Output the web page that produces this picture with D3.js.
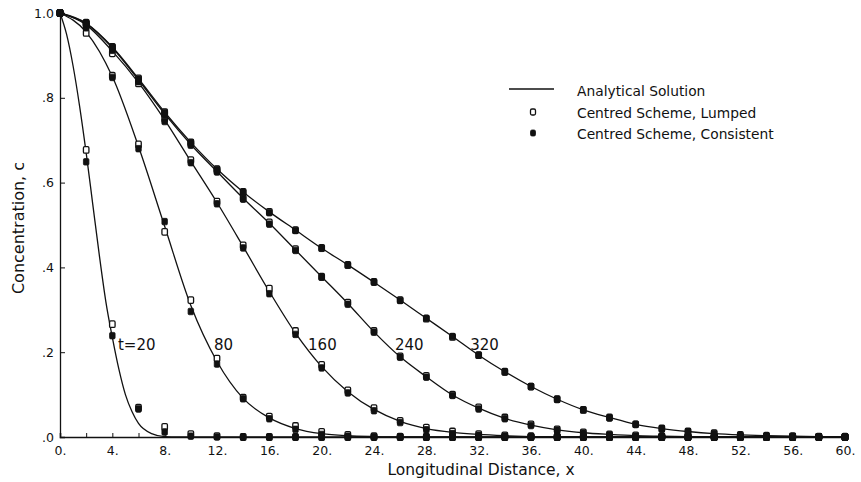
<!DOCTYPE html>
<html><head><meta charset="utf-8">
<script src="https://cdn.jsdelivr.net/npm/d3@7"></script>
<style>
body{margin:0;background:#fff}
svg{display:block}
text{font-family:"DejaVu Sans",sans-serif;fill:#111}
</style>
</head><body><svg id="chart" width="861" height="482"></svg>
<script>
// ---------------- DATA ----------------
const xNodes = [0,2,4,6,8,10,12,14,16,18,20,22,24,26,28,30,32,34,36,38,40,42,44,46,48,50,52,54,56,58,60];

// analytical solution, t = 20 (finer sampling near the source)
const xAnalytic20 = [0,0.5,1,1.5,2,2.5,3,3.5,4,4.5,5,5.5,6,7,8,9,10,60];
const cAnalytic20 = [1.0,0.95,0.875,0.78,0.67,0.55,0.43,0.32,0.235,0.16,0.10,0.06,0.032,0.008,0.001,0,0,0];

// analytical solutions at xNodes
const analytic80  = [1.0,0.955,0.85,0.685,0.497,0.31,0.178,0.091,0.045,0.02,0.008,0.003,0.001,0,0,0,0,0,0,0,0,0,0,0,0,0,0,0,0,0,0];
const analytic160 = [1.0,0.972,0.91,0.836,0.748,0.65,0.553,0.449,0.343,0.245,0.166,0.107,0.065,0.037,0.02,0.011,0.006,0.003,0.001,0,0,0,0,0,0,0,0,0,0,0,0];
const analytic240 = [1.0,0.975,0.918,0.842,0.762,0.69,0.626,0.563,0.504,0.441,0.378,0.315,0.248,0.189,0.142,0.099,0.068,0.044,0.028,0.017,0.010,0.006,0.003,0.002,0.001,0,0,0,0,0,0];
const analytic320 = [1.0,0.976,0.92,0.845,0.766,0.695,0.632,0.578,0.531,0.488,0.445,0.406,0.365,0.323,0.28,0.237,0.193,0.154,0.119,0.089,0.064,0.046,0.030,0.020,0.013,0.008,0.005,0.003,0.002,0.001,0];

// numerical results at xNodes: centred scheme, lumped / consistent
const lumped20      = [1.0,0.677,0.266,0.069,0.024,0.007,0.002,0,0,0,0,0,0,0,0,0,0,0,0,0,0,0,0,0,0,0,0,0,0,0,0];
const consistent20  = [1.0,0.649,0.239,0.066,0.012,0.002,0,0,0,0,0,0,0,0,0,0,0,0,0,0,0,0,0,0,0,0,0,0,0,0,0];
const lumped80      = [1.0,0.953,0.852,0.69,0.484,0.323,0.185,0.093,0.048,0.026,0.012,0.005,0.002,0.001,0,0,0,0,0,0,0,0,0,0,0,0,0,0,0,0,0];
const consistent80  = [1.0,0.965,0.848,0.68,0.508,0.296,0.172,0.09,0.043,0.018,0.006,0.002,0,0,0,0,0,0,0,0,0,0,0,0,0,0,0,0,0,0,0];
const lumped160     = [1.0,0.97,0.905,0.834,0.75,0.653,0.555,0.452,0.35,0.25,0.17,0.11,0.068,0.038,0.022,0.013,0.007,0.004,0.002,0.001,0,0,0,0,0,0,0,0,0,0,0];
const consistent160 = [1.0,0.975,0.912,0.838,0.744,0.647,0.55,0.446,0.338,0.242,0.163,0.104,0.062,0.034,0.017,0.008,0.004,0.002,0.001,0,0,0,0,0,0,0,0,0,0,0,0];
const lumped240     = [1.0,0.975,0.918,0.843,0.763,0.692,0.628,0.563,0.506,0.443,0.378,0.317,0.25,0.19,0.144,0.1,0.07,0.046,0.03,0.018,0.011,0.006,0.004,0.002,0.001,0,0,0,0,0,0];
const consistent240 = [1.0,0.976,0.918,0.84,0.76,0.688,0.625,0.561,0.502,0.44,0.377,0.313,0.247,0.188,0.141,0.098,0.066,0.043,0.027,0.016,0.009,0.005,0.002,0.001,0,0,0,0,0,0,0];
const lumped320     = [1.0,0.977,0.92,0.846,0.766,0.695,0.632,0.578,0.531,0.488,0.446,0.406,0.366,0.323,0.279,0.236,0.193,0.154,0.119,0.089,0.064,0.046,0.030,0.020,0.013,0.009,0.005,0.003,0.002,0.001,0.001];
const consistent320 = [1.0,0.976,0.92,0.844,0.765,0.694,0.631,0.577,0.529,0.487,0.445,0.405,0.365,0.322,0.28,0.237,0.193,0.153,0.119,0.089,0.064,0.045,0.030,0.019,0.012,0.008,0.004,0.002,0.001,0,0];

const curveLabels = ["t=20","80","160","240","320"];
const xTickValues = [0,4,8,12,16,20,24,28,32,36,40,44,48,52,56,60];
const xTickLabels = ["0.","4.","8.","12.","16.","20.","24.","28.","32.","36.","40.","44.","48.","52.","56.","60."];
const yTickValues = [0,0.2,0.4,0.6,0.8,1.0];
const yTickLabels = [".0",".2",".4",".6",".8","1.0"];
const legendItems = ["Analytical Solution","Centred Scheme, Lumped","Centred Scheme, Consistent"];

// ---------------- LAYOUT ----------------
const svg = d3.select("#chart");
const x = d3.scaleLinear().domain([0,60]).range([60,845]);
const y = d3.scaleLinear().domain([0,1]).range([437,13]);
const ink = "#111";

// axes
const xAxis = d3.axisBottom(x).tickValues(d3.range(0,61,2)).tickSize(-4)
  .tickFormat(d => { const i = xTickValues.indexOf(d); return i >= 0 ? xTickLabels[i] : ""; });
const gx = svg.append("g").attr("transform","translate(0,437)").call(xAxis);
gx.select(".domain").attr("stroke",ink).attr("stroke-width",1.6);
gx.selectAll(".tick line").attr("stroke",ink).attr("stroke-width",1);
gx.selectAll(".tick text").attr("fill",ink).attr("font-size",12.5).attr("font-family","DejaVu Sans").attr("dy","0.95em").attr("y",6);

const yAxis = d3.axisLeft(y).tickValues(yTickValues).tickSize(-5)
  .tickFormat((d,i) => yTickLabels[i]);
const gy = svg.append("g").attr("transform","translate(60,0)").call(yAxis);
gy.select(".domain").attr("stroke",ink).attr("stroke-width",1.3);
gy.selectAll(".tick line").attr("stroke",ink).attr("stroke-width",1);
gy.selectAll(".tick text").attr("fill",ink).attr("font-size",12.5).attr("font-family","DejaVu Sans").attr("x",-6);

// axis titles
svg.append("text").attr("x",481).attr("y",475).attr("text-anchor","middle")
  .attr("font-size",15.5).text("Longitudinal Distance, x");
svg.append("text").attr("transform","translate(24,228) rotate(-90)").attr("text-anchor","middle")
  .attr("font-size",16).text("Concentration, c");

// analytical lines
const line = d3.line().x(d => x(d[0])).y(d => y(d[1])).curve(d3.curveMonotoneX);
const analyticSets = [
  xAnalytic20.map((v,i) => [v, cAnalytic20[i]]),
  xNodes.map((v,i) => [v, analytic80[i]]),
  xNodes.map((v,i) => [v, analytic160[i]]),
  xNodes.map((v,i) => [v, analytic240[i]]),
  xNodes.map((v,i) => [v, analytic320[i]])
];
svg.append("g").selectAll("path").data(analyticSets).join("path")
  .attr("d", line).attr("fill","none").attr("stroke",ink).attr("stroke-width",1.3);

// markers
const lumpedSets = [lumped20,lumped80,lumped160,lumped240,lumped320];
const consistentSets = [consistent20,consistent80,consistent160,consistent240,consistent320];
const mw = 5.5, mh = 6.5;
const gl = svg.append("g");
lumpedSets.forEach(arr => {
  gl.selectAll(null).data(arr.map((c,i) => [xNodes[i], c])).join("rect")
    .attr("x", d => x(d[0]) - mw/2).attr("y", d => y(d[1]) - mh/2)
    .attr("width", mw).attr("height", mh).attr("rx",1.2)
    .attr("fill","#fff").attr("stroke",ink).attr("stroke-width",1.3);
});
const gc = svg.append("g");
consistentSets.forEach(arr => {
  gc.selectAll(null).data(arr.map((c,i) => [xNodes[i], c])).join("rect")
    .attr("x", d => x(d[0]) - mw/2).attr("y", d => y(d[1]) - mh/2)
    .attr("width", mw).attr("height", mh).attr("rx",1.2)
    .attr("fill",ink).attr("stroke",ink).attr("stroke-width",0.8);
});

// curve labels (anchored in data units)
const labelAnchorX = [4.43, 11.77, 18.96, 25.6, 31.35];
svg.append("g").selectAll("text").data(curveLabels).join("text")
  .attr("x", (d,i) => x(labelAnchorX[i])).attr("y", y(0.205))
  .attr("font-size",15).text(d => d);

// legend
const lg = svg.append("g");
lg.append("line").attr("x1",509).attr("x2",554).attr("y1",89).attr("y2",89)
  .attr("stroke",ink).attr("stroke-width",1.3);
lg.append("rect").attr("x",533-2.5).attr("y",112-3).attr("width",5).attr("height",6).attr("rx",1.5)
  .attr("fill","#fff").attr("stroke",ink).attr("stroke-width",1.3);
lg.append("rect").attr("x",533-2.5).attr("y",133-3).attr("width",5).attr("height",6).attr("rx",1.5)
  .attr("fill",ink).attr("stroke",ink).attr("stroke-width",0.8);
lg.selectAll("text").data(legendItems).join("text")
  .attr("x",577).attr("y",(d,i) => 96 + i*21.5).attr("font-size",13.8).text(d => d);
</script>
</body></html>
